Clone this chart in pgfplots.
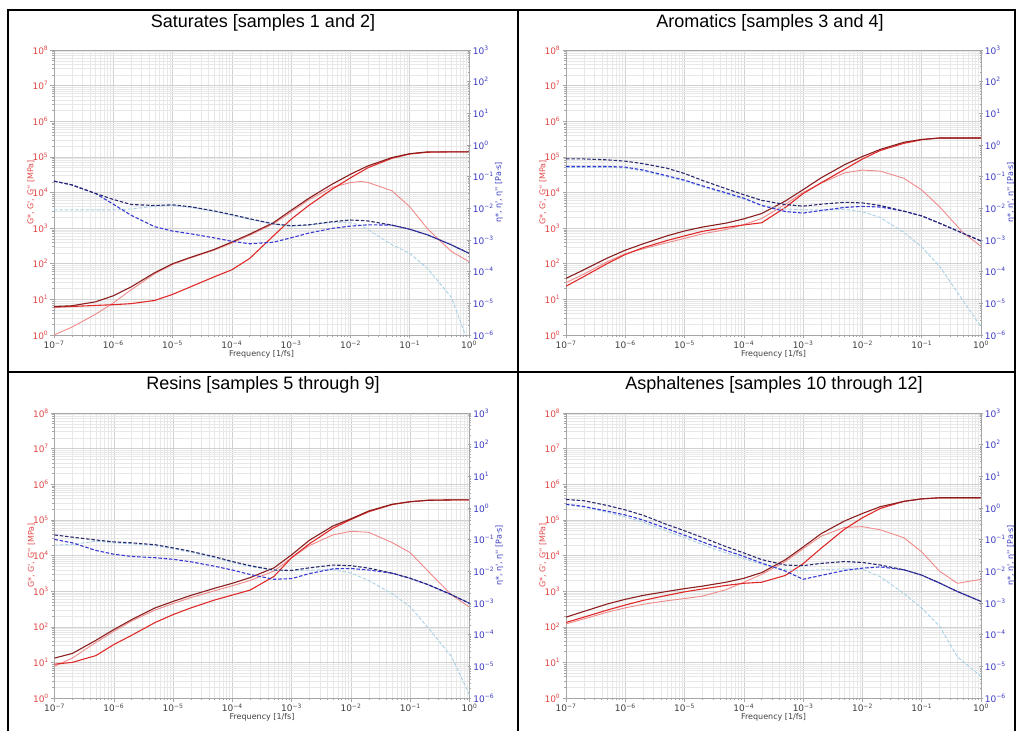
\documentclass[border=0pt]{standalone}
\usepackage{fontspec}
\setmainfont{Liberation Sans}
\newfontfamily\dv{DejaVu Sans}
\usepackage{pgfplots}
\pgfplotsset{compat=1.18}
\usepackage{pgfplotstable}

\definecolor{cGs}{HTML}{8B1E1E}
\definecolor{cGp}{HTML}{E02A2A}
\definecolor{cGpp}{HTML}{F08A8A}
\definecolor{ces}{HTML}{2A2A70}
\definecolor{cep}{HTML}{3838D8}
\definecolor{cepp}{HTML}{A8D0E6}
\definecolor{redlab}{HTML}{E04848}
\definecolor{bluelab}{HTML}{3A3AC0}

\newcommand\tl[1]{10\textsuperscript{#1}}

\pgfplotstableread{
f      Gs      Gp      Gpp    es       ep       epp
1e-7   6.31    6.03    1.00   0.0724   0.0724   0.00891
2e-7   6.61    6.31    1.66   0.0550   0.0550   0.00891
5e-7   8.51    6.76    3.80   0.0295   0.0295   0.00891
1e-6   12.6    7.08    7.94   0.0191   0.0135   0.00891
2e-6   22.4    7.59    18.6   0.0132   0.00603  0.00955
5e-6   56.2    9.33    52.5   0.0123   0.00263  0.0117
1e-5   100     13.8    95.5   0.0129   0.00191  0.0123
2e-5   151     22.4    145    0.0112   0.00158  0.0107
5e-5   251     42.7    240    0.00832  0.00117  0.00794
1e-4   407     67.6    380    0.00631  0.000912 0.00603
2e-4   676     141     631    0.00468  0.000759 0.00447
5e-4   1413    603     1318   0.00324  0.000851 0.00316
1e-3   3162    1778    2818   0.00282  0.00117  0.00269
2e-3   6918    4365    6310   0.00302  0.00166  0.00295
5e-3   17378   12589   14125  0.00380  0.00234  0.00363
1e-2   32359   25704   19055  0.00427  0.00275  0.00355
1.5e-2 45000   38000   20400  0.00415  0.00290  0.00290
2e-2   56234   50119   19055  0.00398  0.00302  0.00209
5e-2   95499   91201   11220  0.00295  0.00295  0.000708
1e-1   123027  120226  3981   0.00219  0.00219  0.00038
2e-1   138038  134896  955    0.00145  0.00145  0.000126
5e-1   138038  138038  224    0.000708 0.000708 1.58e-5
1      138038  138038  115    0.00038  0.00038  5.0e-7
}\tabA

\pgfplotstableread{
f      Gs      Gp      Gpp    es       ep       epp
1e-7   38.9    23.4    29.5   0.363    0.209    0.195
2e-7   67.6    43.7    51.3   0.363    0.209    0.195
5e-7   145     102     115    0.339    0.209    0.195
1e-6   240     182     191    0.309    0.200    0.186
2e-6   363     282     263    0.257    0.162    0.151
5e-6   603     447     389    0.186    0.107    0.100
1e-5   832     603     513    0.126    0.0776   0.0724
2e-5   1072    813     692    0.0759   0.0513   0.0479
5e-5   1380    1047    912    0.0417   0.0309   0.0288
1e-4   1820    1230    1259   0.0269   0.0209   0.0195
2e-4   2570    1413    1862   0.0178   0.0123   0.0126
5e-4   5754    3802    4677   0.0132   0.00794  0.00955
1e-3   12023   9333    10000  0.0117   0.00708  0.00891
2e-3   25704   18621   18197  0.0135   0.00851  0.00891
5e-3   60256   44668   35481  0.0155   0.0107   0.00933
1e-2   102329  87096   42658  0.0148   0.0115   0.00776
2e-2   162181  151356  39811  0.0123   0.0110   0.00513
5e-2   257040  239883  25119  0.00813  0.00813  0.00174
1e-1   309030  301995  11749  0.00575  0.00575  0.000603
2e-1   338844  338844  3981   0.00339  0.00339  0.000148
5e-1   338844  338844  741    0.00162  0.00162  1.20e-5
1      338844  338844  309    0.000933 0.000933 1.82e-6
}\tabB

\pgfplotstableread{
f      Gs      Gp      Gpp    es       ep       epp
1e-7   13.2    8.9     7.8    0.141    0.102    0.0676
2e-7   17.8    10.0    13.2   0.120    0.0794   0.0708
5e-7   41.7    15.5    36.3   0.0977   0.0457   0.0891
1e-6   83.2    31.6    74.1   0.0851   0.0347   0.0794
2e-6   158     57.5    145    0.0794   0.0295   0.0741
5e-6   339     132     295    0.0692   0.0269   0.0646
1e-5   513     219     447    0.0550   0.0240   0.0513
2e-5   759     339     661    0.0427   0.0200   0.0398
5e-5   1202    562     1023   0.0288   0.0145   0.0269
1e-4   1660    776     1413   0.0204   0.0110   0.0191
2e-4   2399    1072    1995   0.0151   0.00794  0.0141
5e-4   4467    2570    3631   0.0110   0.00562  0.0107
1e-3   10471   8710    8710   0.0107   0.00589  0.0105
2e-3   26915   21380   19055  0.0129   0.00851  0.0110
5e-3   67608   58884   38019  0.0158   0.0120   0.0112
1e-2   107152  102329  47863  0.0151   0.0123   0.00891
2e-2   177828  169824  44668  0.0126   0.0110   0.00513
5e-2   275423  269153  22909  0.00871  0.00871  0.00195
1e-1   323594  323594  12023  0.00603  0.00603  0.000759
2e-1   354813  354813  3631   0.00380  0.00380  0.000166
5e-1   363078  363078  776    0.00182  0.00182  2.0e-5
1      363078  363078  355    0.000977 0.000977 1.26e-6
}\tabC

\pgfplotstableread{
f      Gs      Gp      Gpp    es       ep       epp
1e-7   186     132     120    1.86     1.32     1.26
2e-7   269     186     166    1.70     1.12     1.07
5e-7   437     295     257    1.20     0.794    0.724
1e-6   589     407     339    0.871    0.603    0.525
2e-6   759     550     427    0.589    0.417    0.355
5e-6   977     759     537    0.302    0.224    0.186
1e-5   1175    955     617    0.191    0.138    0.115
2e-5   1380    1148    724    0.117    0.0851   0.0708
5e-5   1778    1445    1096   0.0603   0.0457   0.0380
1e-4   2291    1660    1778   0.0380   0.0295   0.0251
2e-4   3311    1778    2951   0.0234   0.0182   0.0166
5e-4   7586    2754    6761   0.0158   0.0102   0.0112
1e-3   17378   5888    15488  0.0151   0.00562  0.0105
2e-3   40738   15849   34674  0.0178   0.00741  0.0112
5e-3   93325   54954   61660  0.0204   0.0107   0.0120
1e-2   151356  114815  64565  0.0191   0.0126   0.0117
2e-2   234423  208930  52481  0.0158   0.0138   0.00676
5e-2   331131  331131  31623  0.0112   0.0112   0.00200
1e-1   389045  389045  12589  0.00759  0.00759  0.000692
2e-1   416869  416869  3631   0.00427  0.00427  0.000186
4e-1   416869  416869  1660   0.00230  0.00230  2.0e-5
1      416869  416869  2138   0.00112  0.00112  4.79e-6
}\tabD

\pgfplotsset{
  myshared/.style={
    scale only axis, width=415pt, height=285pt,
    xmin=1e-7, xmax=1,
    tick align=outside, major tick length=3.5pt, minor tick length=2pt,
    tick style={gray!70, line width=0.5pt},
    axis line style={-, draw=gray!70, line width=0.6pt},
    xtick={1e-7,1e-6,1e-5,1e-4,1e-3,1e-2,1e-1,1},
    xticklabels={\tl{−7},\tl{−6},\tl{−5},\tl{−4},\tl{−3},\tl{−2},\tl{−1},\tl{0}},
    minor xtick={2e-7,3e-7,4e-7,5e-7,6e-7,7e-7,8e-7,9e-7,
      2e-6,3e-6,4e-6,5e-6,6e-6,7e-6,8e-6,9e-6,
      2e-5,3e-5,4e-5,5e-5,6e-5,7e-5,8e-5,9e-5,
      2e-4,3e-4,4e-4,5e-4,6e-4,7e-4,8e-4,9e-4,
      2e-3,3e-3,4e-3,5e-3,6e-3,7e-3,8e-3,9e-3,
      2e-2,3e-2,4e-2,5e-2,6e-2,7e-2,8e-2,9e-2,
      0.2,0.3,0.4,0.5,0.6,0.7,0.8,0.9},
    ticklabel style={font=\dv\fontsize{9}{10}\selectfont, inner sep=2pt},
  },
  panelL/.style={
    myshared,
    ymin=1, ymax=1e8,
    tick pos=left,
    grid=both,
    major grid style={draw=gray!36, line width=0.5pt},
    minor grid style={draw=gray!18, line width=0.35pt},
    ytick={1,1e1,1e2,1e3,1e4,1e5,1e6,1e7,1e8},
    yticklabels={\tl{0},\tl{1},\tl{2},\tl{3},\tl{4},\tl{5},\tl{6},\tl{7},\tl{8}},
    minor ytick={2,3,4,5,6,7,8,9,20,30,40,50,60,70,80,90,
      200,300,400,500,600,700,800,900,
      2e3,3e3,4e3,5e3,6e3,7e3,8e3,9e3,
      2e4,3e4,4e4,5e4,6e4,7e4,8e4,9e4,
      2e5,3e5,4e5,5e5,6e5,7e5,8e5,9e5,
      2e6,3e6,4e6,5e6,6e6,7e6,8e6,9e6,
      2e7,3e7,4e7,5e7,6e7,7e7,8e7,9e7},
    yticklabel style={text=redlab},
    xticklabel style={text=black!75},
    xlabel={Frequency [1/fs]},
    ylabel={G*, G', G'' [MPa]},
    every axis x label/.style={at={(axis description cs:0.5,-0.068)}, anchor=center,
      font=\dv\fontsize{8}{9}\selectfont, text=black!75},
    every axis y label/.style={at={(axis description cs:-0.056,0.5)}, anchor=center, rotate=90,
      font=\dv\fontsize{8}{9}\selectfont, text=redlab},
  },
  panelR/.style={
    myshared,
    ymin=1e-6, ymax=1e3,
    axis y line=right, axis x line=none,
    ytick={1e-6,1e-5,1e-4,1e-3,1e-2,1e-1,1,1e1,1e2,1e3},
    yticklabels={\tl{−6},\tl{−5},\tl{−4},\tl{−3},\tl{−2},\tl{−1},\tl{0},\tl{1},\tl{2},\tl{3}},
    minor ytick={2e-6,3e-6,4e-6,5e-6,6e-6,7e-6,8e-6,9e-6,
      2e-5,3e-5,4e-5,5e-5,6e-5,7e-5,8e-5,9e-5,
      2e-4,3e-4,4e-4,5e-4,6e-4,7e-4,8e-4,9e-4,
      2e-3,3e-3,4e-3,5e-3,6e-3,7e-3,8e-3,9e-3,
      2e-2,3e-2,4e-2,5e-2,6e-2,7e-2,8e-2,9e-2,
      0.2,0.3,0.4,0.5,0.6,0.7,0.8,0.9,
      2,3,4,5,6,7,8,9,20,30,40,50,60,70,80,90,
      200,300,400,500,600,700,800,900},
    yticklabel style={text=bluelab},
    ylabel={η*, η', η'' [Pa·s]},
    every axis y label/.style={at={(axis description cs:1.072,0.5)}, anchor=center, rotate=90,
      font=\dv\fontsize{8}{9}\selectfont, text=bluelab},
  },
  sGs/.style={draw=cGs, line width=1.1pt},
  sGp/.style={draw=cGp, line width=1.1pt},
  sGpp/.style={draw=cGpp, line width=0.9pt},
  ses/.style={draw=ces, line width=1.1pt, dash pattern=on 3.5pt off 1.8pt},
  sep/.style={draw=cep, line width=1.1pt, dash pattern=on 3.5pt off 1.8pt},
  sepp/.style={draw=cepp, line width=0.9pt, dash pattern=on 3.5pt off 1.8pt},
}

\newcommand\panel[3]{%
  \begin{axis}[xmode=log, ymode=log, panelL, at={(#1pt,#2pt)}, anchor=south west]
    \addplot[sGpp] table[x=f,y=Gpp]{#3};
    \addplot[sGp] table[x=f,y=Gp]{#3};
    \addplot[sGs] table[x=f,y=Gs]{#3};
  \end{axis}
  \begin{axis}[xmode=log, ymode=log, panelR, at={(#1pt,#2pt)}, anchor=south west]
    \addplot[sepp] table[x=f,y=epp]{#3};
    \addplot[sep] table[x=f,y=ep]{#3};
    \addplot[ses] table[x=f,y=es]{#3};
  \end{axis}
}

\begin{document}
\begin{tikzpicture}[x=1pt,y=1pt]
\path[use as bounding box] (0,0) rectangle (1016,731);
\panel{54}{396}{\tabA}
\panel{566}{396}{\tabB}
\panel{54.5}{33}{\tabC}
\panel{566}{33}{\tabD}
\node[font=\fontsize{18}{20}\selectfont] at (263,708) {Saturates [samples 1 and 2]};
\node[font=\fontsize{18}{20}\selectfont] at (770,708) {Aromatics [samples 3 and 4]};
\node[font=\fontsize{18}{20}\selectfont] at (263,346) {Resins [samples 5 through 9]};
\node[font=\fontsize{18}{20}\selectfont] at (774,346) {Asphaltenes [samples 10 through 12]};
\draw[line width=2pt] (8,0) -- (8,721) -- (1015,721) -- (1015,0);
\draw[line width=2pt] (518,0) -- (518,721);
\draw[line width=2pt] (8,359) -- (1015,359);
\end{tikzpicture}
\end{document}
